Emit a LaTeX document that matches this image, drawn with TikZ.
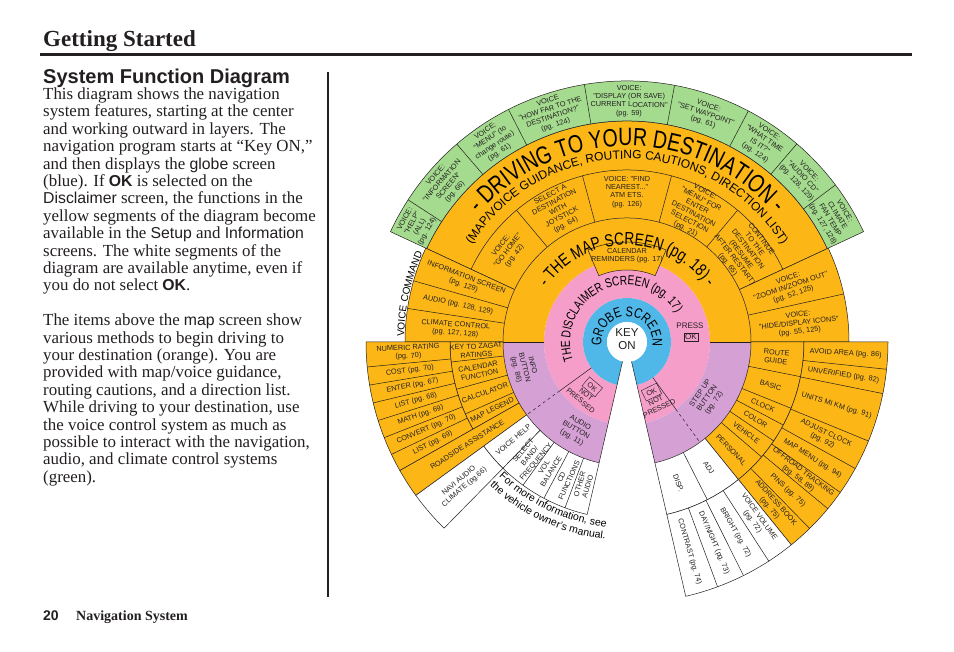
\documentclass[tikz,border=0pt]{standalone}
\usepackage{fontspec}
\setmainfont{Liberation Serif}
\setsansfont{Liberation Sans}
\newfontfamily\cf{Liberation Sans}
\newfontfamily\ct[FakeStretch=0.78]{Liberation Sans}
\usetikzlibrary{decorations.text}
\definecolor{org}{RGB}{252,183,22}
\definecolor{grn}{RGB}{164,219,142}
\definecolor{pnk}{RGB}{245,158,201}
\definecolor{blu}{RGB}{80,184,232}
\definecolor{pur}{RGB}{213,160,212}
\definecolor{ink}{RGB}{35,31,32}
\newcommand{\annsec}[5]{\path[#1] (#4:#2) arc[start angle=#4,end angle=#5,radius=#2] -- (#5:#3) arc[start angle=#5,end angle=#4,radius=#3] -- cycle;}
\newcommand{\bodyf}{\fontsize{16.9}{17.4}\selectfont}
\newcommand{\sw}[1]{{\sffamily\fontsize{15.8}{17}\selectfont #1}}
\newcommand{\swb}[1]{{\sffamily\bfseries\fontsize{15.8}{17}\selectfont #1}}
\begin{document}
\begin{tikzpicture}[x=1pt,y=1pt,
  lin/.style={draw=ink,line width=0.5pt},
  osec/.style={fill=org,draw=ink,line width=0.5pt},
  gsec/.style={fill=grn,draw=ink,line width=0.5pt},
  wsec/.style={fill=white,draw=ink,line width=0.5pt},
  lab/.style={font=\cf\fontsize{7.3}{8.4}\selectfont,align=center,inner sep=0pt,text=ink},
  body/.style={anchor=base west,inner sep=0pt,font=\bodyf,text=ink}]
\useasboundingbox (0,0) rectangle (954,652);
\fill[white] (0,0) rectangle (954,652);
% ---------- page text ----------
\node[anchor=base west,inner sep=0pt,font=\bfseries\fontsize{23}{23}\selectfont,text=ink] (hdr) at (43,605) {Getting Started};
\draw[line width=3pt,ink] (40,597) -- (912,597);
\node[anchor=base west,inner sep=0pt,font=\sffamily\bfseries\fontsize{20}{20}\selectfont,text=ink] (sub) at (43,568.7) {System Function Diagram};
\draw[line width=1.2pt,ink] (328,580) -- (328,55);
\node[body] (t1) at (43,552.5) {This diagram shows the navigation};
\node[body] (t2) at (43,535.1) {system features, starting at the center};
\node[body] (t3) at (43,517.7) {and working outward in layers. The};
\node[body] (t4) at (43,500.3) {navigation program starts at “Key ON,”};
\node[body] (t5) at (43,482.9) {and then displays the \sw{globe} screen};
\node[body] (t6) at (43,465.5) {(blue). If \swb{OK} is selected on the};
\node[body] (t7) at (43,448.1) {\sw{Disclaimer} screen, the functions in the};
\node[body] (t8) at (43,430.7) {yellow segments of the diagram become};
\node[body] (t9) at (43,413.3) {available in the \sw{Setup} and \sw{Information}};
\node[body] (t10) at (43,395.9) {screens. The white segments of the};
\node[body] (t11) at (43,378.5) {diagram are available anytime, even if};
\node[body] (t12) at (43,361.1) {you do not select \swb{OK}.};
\node[body] (t14) at (43,326.3) {The items above the \sw{map} screen show};
\node[body] (t15) at (43,308.9) {various methods to begin driving to};
\node[body] (t16) at (43,291.5) {your destination (orange). You are};
\node[body] (t17) at (43,274.1) {provided with map/voice guidance,};
\node[body] (t18) at (43,256.7) {routing cautions, and a direction list.};
\node[body] (t19) at (43,239.3) {While driving to your destination, use};
\node[body] (t20) at (43,221.9) {the voice control system as much as};
\node[body] (t21) at (43,204.5) {possible to interact with the navigation,};
\node[body] (t22) at (43,187.1) {audio, and climate control systems};
\node[body] (t23) at (43,169.7) {(green).};
\node[anchor=base west,inner sep=0pt,font=\sffamily\bfseries\fontsize{14}{14}\selectfont,text=ink] (pgno) at (43,31.3) {20};
\node[anchor=base west,inner sep=0pt,font=\bfseries\fontsize{14}{14}\selectfont,text=ink] (foot) at (76,31.3) {Navigation System};
% ---------- diagram ----------
\begin{scope}[shift={(627,310)}]
\annsec{fill=pnk}{44}{83}{-77}{257}
\annsec{fill=blu}{20}{44}{-77}{257}
\fill[white] (0,0) circle (20);
\annsec{fill=pur}{83}{124}{180}{257}
\annsec{fill=pur}{83}{124}{-77}{0}
\annsec{fill=org}{83}{124}{0}{180}
% upper rings
\annsec{osec}{124}{221}{25}{155}
\draw[lin] (25:172) arc[start angle=25,end angle=155,radius=172];
\foreach \a in {50,75,105,130} \draw[lin] (\a:124) -- (\a:172);
\annsec{gsec}{221}{261}{25}{155}
\foreach \a in {37,49.4,62.3,79.5,99.4,117,130.7,147} \draw[lin] (\a:221) -- (\a:261);
\annsec{osec}{124}{222}{0}{25}
\draw[lin] (12.5:124) -- (12.5:222);
\annsec{osec}{124}{222}{155}{180}
\foreach \a in {164,171.3} \draw[lin] (\a:124) -- (\a:222);
% lower left
\annsec{osec}{124}{177}{180}{209.5}
\foreach \a in {186.5,195.5,204} \draw[lin] (\a:124) -- (\a:177);
\annsec{osec}{177}{261}{180}{209.5}
\foreach \a in {185.5,189.5,193.5,197.5,201.5,205.5} \draw[lin] (\a:177) -- (\a:261);
\annsec{osec}{124}{261}{209.5}{216}
\annsec{wsec}{177}{261}{216}{225.5}
\annsec{wsec}{124}{177}{216}{225.5}
\annsec{wsec}{124}{177}{225.5}{257}
\foreach \a in {234,242,249.5} \draw[lin] (\a:124) -- (\a:177);
% lower right
\annsec{osec}{124}{177}{309}{360}
\foreach \a in {319.5,326,332,338,348.7} \draw[lin] (\a:124) -- (\a:177);
\annsec{osec}{177}{261}{309}{360}
\foreach \a in {314.4,320.3,324.8,331,337.7,348.6,354} \draw[lin] (\a:177) -- (\a:261);
\annsec{wsec}{124}{177}{283}{309}
\draw[lin] (297:124) -- (297:177);
\annsec{wsec}{177}{261}{283}{309}
\foreach \a in {290.3,296.5,302.9} \draw[lin] (\a:177) -- (\a:261);
% inner lines
\draw[lin] (180:83) -- (180:124);
\draw[lin] (0:83) -- (0:124);
\draw[lin] (257:20) -- (257:124);
\draw[lin] (283:20) -- (283:124);
\draw[lin] (216:44) -- (216:83);
\draw[lin,dashed] (216:83) -- (216:124);
\draw[lin] (306:44) -- (306:83);
\draw[lin,dashed] (306:83) -- (306:124);
% calendar box
\annsec{osec}{72}{100}{67}{113}
\node[lab] (cal) at (90:86) {CALENDAR\\REMINDERS (pg. 17)};
% arc titles
\path[decorate,decoration={text along path,text align=center,text={|\ct\fontsize{25}{25}\selectfont|- DRIVING TO YOUR DESTINATION -}}] (160:196) arc[start angle=160,end angle=20,radius=196];
\path[decorate,decoration={text along path,text align=center,text={|\sffamily\fontsize{12}{12}\selectfont|(MAP/VOICE GUIDANCE, ROUTING CAUTIONS, DIRECTION LIST)}}] (172:183) arc[start angle=172,end angle=8,radius=183];
\path[decorate,decoration={text along path,text align=center,text={|\ct\fontsize{17.5}{17.5}\selectfont|- THE MAP SCREEN (pg. 18) -}}] (175:97) arc[start angle=175,end angle=5,radius=97];
\path[decorate,decoration={text along path,text align=center,text={|\ct\fontsize{13}{13}\selectfont|THE DISCLAIMER SCREEN (pg. 17)}}] (215:57) arc[start angle=215,end angle=15,radius=57];
\path[decorate,decoration={text along path,text align=center,text={|\ct\fontsize{14}{14}\selectfont|GROBE SCREEN}}] (200:25.5) arc[start angle=200,end angle=-20,radius=25.5];
\path[decorate,decoration={text along path,text align=center,text={|\sffamily\fontsize{10}{10}\selectfont|VOICE COMMAND}}] (180:223) arc[start angle=180,end angle=155,radius=223];
\path[decorate,decoration={text along path,text={|\sffamily\fontsize{10.5}{10.5}\selectfont|For more information, see}}] (226.5:186) arc[start angle=226.5,end angle=280,radius=186];
\path[decorate,decoration={text along path,text={|\sffamily\fontsize{10.5}{10.5}\selectfont|the vehicle owner’s manual.}}] (226.3:198.5) arc[start angle=226.3,end angle=280,radius=198.5];
\node[font=\sffamily\fontsize{11.5}{12.5}\selectfont,align=center,inner sep=0pt,text=ink] (key) at (0,3) {KEY\\ON};
% green labels
\node[lab,rotate=61] (g1) at (151:241) {VOICE:\\"HELP"\\(ALL)\\(pg. 124)};
\node[lab,rotate=48.9] (g2) at (138.9:241) {VOICE:\\"INFORMATION\\SCREEN"\\(pg. 66)};
\node[lab,rotate=33.9] (g3) at (123.9:241) {VOICE:\\"MENU" (to\\change route)\\(pg. 61)};
\node[lab,rotate=18.2] (g4) at (108.2:241) {VOICE\\"HOW FAR TO THE\\DESTINATION?"\\(pg. 124)};
\node[lab,rotate=-0.5] (g5) at (89.5:241) {VOICE:\\"DISPLAY (OR SAVE)\\CURRENT LOCATION"\\(pg. 59)};
\node[lab,rotate=-19.1] (g6) at (70.9:241) {VOICE:\\"SET WAYPOINT"\\(pg. 61)};
\node[lab,rotate=-34.1] (g7) at (55.9:241) {VOICE:\\"WHAT TIME\\IS IT?"\\(pg. 124)};
\node[lab,rotate=-46.8] (g8) at (43.2:241) {VOICE:\\"AUDIO CD"\\(pg. 128, 129)};
\node[lab,rotate=-59] (g9) at (31:241) {VOICE:\\CLIMATE\\FAN TEMP\\(pg. 127, 128)};
% destination labels
\node[lab,rotate=52.5] (d1) at (142.5:150) {VOICE:\\"GO HOME"\\(pg. 42)};
\node[lab,rotate=27.5] (d2) at (117.5:149) {SELECT A\\DESTINATION\\WITH\\JOYSTICK\\(pg. 64)};
\node[lab,rotate=0] (d3) at (90:150) {VOICE: "FIND\\NEAREST..."\\ATM ETS.\\(pg. 126)};
\node[lab,rotate=-27.5] (d4) at (62.5:148) {VOICE:\\"MENU" FOR\\ENTER\\DESTINATION\\SELECTION\\(pg. 21)};
\node[lab,rotate=-52.5] (d5) at (37.5:148) {CONTINUE\\TO THE\\DESTINATION\\(RESUME\\AFTER RESTART)\\(pg. 65)};
% voice command slices
\node[lab,rotate=-20.5] (v1) at (159.5:173) {INFORMATION SCREEN\\(pg. 129)};
\node[lab,rotate=-12.4] (v2) at (167.6:173) {AUDIO (pg. 128, 129)};
\node[lab,rotate=-4.3] (v3) at (175.7:172) {CLIMATE CONTROL\\(pg. 127, 128)};
\node[lab,rotate=18.7] (v4) at (18.7:173) {VOICE:\\"ZOOM IN/ZOOM OUT"\\(pg. 52, 125)};
\node[lab,rotate=6.2] (v5) at (6.2:173) {VOICE:\\"HIDE/DISPLAY ICONS"\\(pg. 55, 125)};
% inner labels
\node[font=\cf\fontsize{8}{8}\selectfont,inner sep=0pt,text=ink,align=center] (press) at (63,16) {PRESS};
\node[draw=ink,line width=0.5pt,font=\cf\fontsize{8}{8}\selectfont,inner sep=1pt,text=ink] (pok) at (64,5) {OK};
\node[lab,rotate=-40] (np1) at (232:64) {\fbox{OK}\\NOT\\PRESSED};
\node[lab,rotate=26] (np2) at (296:63) {\fbox{OK}\\NOT\\PRESSED};
\node[lab,rotate=-76] (ib) at (194:106) {INFO\\BUTTON\\(pg. 86)};
\node[lab,rotate=-30] (ab) at (240:102) {AUDIO\\BUTTON\\(pg. 11)};
\node[lab,rotate=55] (sb) at (325:98) {STEP UP\\BUTTON\\(pg. 72)};
% lower left labels
\node[lab,rotate=2.7] (l1) at (182.7:219) {NUMERIC RATING\\(pg. 70)};
\node[lab,rotate=7.5] (l2) at (187.5:219) {COST (pg. 70)};
\node[lab,rotate=11.5] (l3) at (191.5:219) {ENTER (pg. 67)};
\node[lab,rotate=15.5] (l4) at (195.5:219) {LIST (pg. 68)};
\node[lab,rotate=19.5] (l5) at (199.5:219) {MATH (pg. 69)};
\node[lab,rotate=23.5] (l6) at (203.5:219) {CONVERT (pg. 70)};
\node[lab,rotate=27.5] (l7) at (207.5:219) {LIST (pg. 69)};
\node[lab,rotate=3.2] (k1) at (183.2:151) {KEY TO ZAGAT\\RATINGS};
\node[lab,rotate=11] (k2) at (191:151) {CALENDAR\\FUNCTION};
\node[lab,rotate=19.7] (k3) at (199.7:151) {CALCULATOR};
\node[lab,rotate=26.7] (k4) at (206.7:151) {MAP LEGEND};
\node[lab,rotate=32.7] (rsa) at (212.7:190) {ROADSIDE ASSISTANCE};
\node[lab,rotate=40.7] (navi) at (220.7:218) {NAVI AUDIO\\CLIMATE (pg.66)};
\node[lab,rotate=40.7] (vh) at (220.7:150) {VOICE HELP};
\node[lab,rotate=49.7] (w1) at (229.7:150) {SELECT\\BAND/\\FREQUENCY};
\node[lab,rotate=58] (w2) at (238:150) {VOL\\BALANCE};
\node[lab,rotate=65.7] (w3) at (245.7:150) {CD\\FUNCTIONS};
\node[lab,rotate=73.2] (w4) at (253.2:150) {OTHER\\AUDIO};
% lower right labels
\node[lab,rotate=-5.7] (r1) at (354.3:150) {ROUTE\\GUIDE};
\node[lab,rotate=-16.7] (r2) at (343.3:150) {BASIC};
\node[lab,rotate=-25] (r3) at (335:150) {CLOCK};
\node[lab,rotate=-31] (r4) at (329:150) {COLOR};
\node[lab,rotate=-37.3] (r5) at (322.7:150) {VEHICLE};
\node[lab,rotate=-46] (r6) at (314:150) {PERSONAL};
\node[lab,rotate=-3] (o1) at (357:219) {AVOID AREA (pg. 86)};
\node[lab,rotate=-8.7] (o2) at (351.3:219) {UNVERIFIED (pg. 82)};
\node[lab,rotate=-16.9] (o3) at (343.1:219) {UNITS MI KM (pg. 91)};
\node[lab,rotate=-25.7] (o4) at (334.3:219) {ADJUST CLOCK\\(pg. 92)};
\node[lab,rotate=-32.1] (o5) at (327.9:219) {MAP MENU (pg. 94)};
\node[lab,rotate=-37.5] (o6) at (322.5:219) {OFFROAD TRACKING\\(pg. 58, 89)};
\node[lab,rotate=-42.7] (o7) at (317.3:219) {PINS (pg. 75)};
\node[lab,rotate=-48.3] (o8) at (311.7:219) {ADDRESS BOOK\\(pg. 75)};
\node[lab,rotate=-70] (x1) at (290:150) {DISP.};
\node[lab,rotate=-57] (x2) at (303:150) {ADJ};
\node[lab,rotate=-73.4] (x3) at (286.6:219) {CONTRAST (pg. 74)};
\node[lab,rotate=-66.6] (x4) at (293.4:219) {DAY/NIGHT (pg. 73)};
\node[lab,rotate=-60.3] (x5) at (299.7:219) {BRIGHT (pg. 72)};
\node[lab,rotate=-54] (x6) at (306:219) {VOICE VOLUME\\(pg. 72)};
\end{scope}
\end{tikzpicture}
\end{document}
